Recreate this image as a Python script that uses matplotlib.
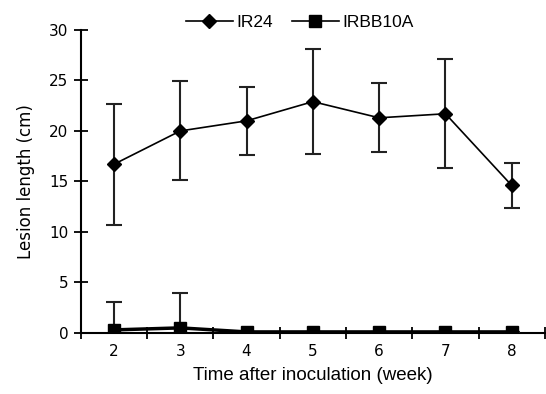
import numpy as np
import matplotlib
matplotlib.use("Agg")
import matplotlib.pyplot as plt
from matplotlib.lines import Line2D

weeks = [2, 3, 4, 5, 6, 7, 8]
ir24 = [16.7, 20.0, 21.0, 22.9, 21.3, 21.7, 14.6]
ir24_err = [6.0, 4.9, 3.4, 5.2, 3.4, 5.4, 2.2]
irbb10a = [0.3, 0.5, 0.1, 0.1, 0.1, 0.1, 0.1]
irbb10a_err = [2.8, 3.5, 0.0, 0.0, 0.0, 0.0, 0.0]

plt.rcParams["font.family"] = "DejaVu Sans"
plt.rcParams["font.size"] = 11

fig = plt.figure(figsize=(5.46, 3.94), dpi=100)
ax = fig.add_axes([0.148, 0.155, 0.85, 0.769])

ax.errorbar(weeks, ir24, yerr=ir24_err, color="black", marker="D", markersize=7,
            linewidth=1.2, elinewidth=1.5, ecolor="#222222", capsize=6, capthick=1.5,
            zorder=3)
ax.errorbar(weeks, irbb10a, yerr=irbb10a_err, color="black", marker="s", markersize=9,
            linewidth=2.5, elinewidth=1.5, ecolor="#222222", capsize=6, capthick=1.5,
            zorder=3)

ax.set_xlim(1.5, 8.5)
ax.set_ylim(0, 30)
ax.set_xticks(weeks)
ax.set_xticks(np.arange(1.5, 9, 1), minor=True)
ax.set_yticks(range(0, 31, 5))
ax.tick_params(axis="x", which="major", length=0, pad=8)
ax.tick_params(axis="x", which="minor", direction="inout", length=8, width=1.3)
ax.tick_params(axis="y", direction="inout", length=10, width=1.3, pad=4)

for s in ["top", "right"]:
    ax.spines[s].set_visible(False)
for s in ["left", "bottom"]:
    ax.spines[s].set_linewidth(1.5)

ax.set_xlabel("Time after inoculation (week)", fontsize=13.5, labelpad=6,
              family="Liberation Sans")
ax.set_ylabel("Lesion length (cm)", fontsize=12, labelpad=10)

handles = [
    Line2D([], [], color="black", marker="D", markersize=7, linewidth=1.2),
    Line2D([], [], color="black", marker="s", markersize=9, linewidth=1.2),
]
fig.legend(handles, ["IR24", "IRBB10A"], loc="center", bbox_to_anchor=(0.549, 0.944),
           ncol=2, frameon=False, handlelength=2.7, columnspacing=1.1,
           handletextpad=0.2, prop={"family": "Liberation Sans", "size": 12.5})

fig.savefig("out.png", dpi=100)
